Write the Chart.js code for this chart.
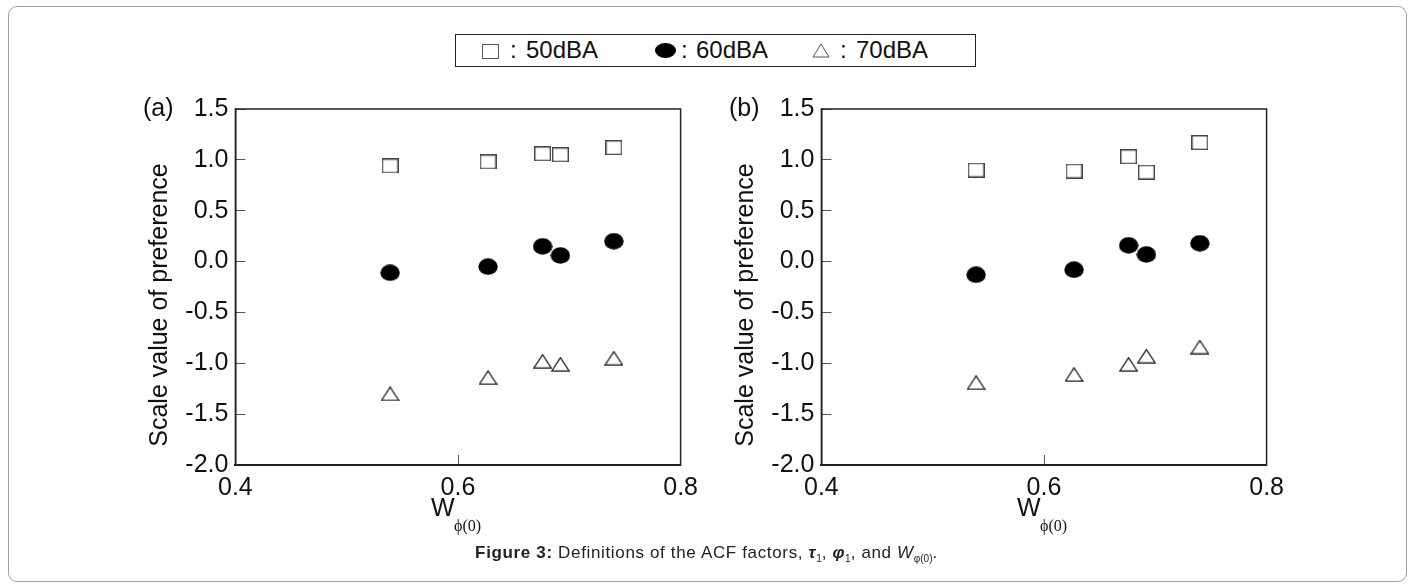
<!DOCTYPE html>
<html>
<head>
<meta charset="utf-8">
<script src="https://cdn.jsdelivr.net/npm/chart.js@4.4.0/dist/chart.umd.min.js"></script>
<style>
  body { margin: 0; background: #fff; width: 1413px; height: 584px; position: relative; overflow: hidden; font-family: "Liberation Sans", Arial, sans-serif; }
  #frame { position: absolute; left: 8px; top: 6px; width: 1399px; height: 576px; box-sizing: border-box; border: 1px solid #a0a0a0; border-radius: 9px; }
  .panel { position: absolute; top: 80px; width: 580px; height: 470px; }
  #legend { position: absolute; left: 455px; top: 34px; width: 521px; height: 33px; box-sizing: border-box; border: 1px solid #222; }
  #legend span { position: absolute; font-size: 24px; line-height: 24px; top: 3px; color: #111; }
  #legend .sym { position: absolute; }
  #caption { position: absolute; left: 0; width: 1413px; top: 543px; text-align: center; font-size: 17px; letter-spacing: 0.65px; color: #222; }
  #caption sub { font-size: 10px; letter-spacing: 0; }
</style>
</head>
<body>
<div id="frame"></div>

<div id="legend">
  <div class="sym" style="left:26px; top:9px; width:15px; height:13px; border:1px solid #555;"></div>
  <span style="left:54px;">:</span>
  <span style="left:70px;">50dBA</span>
  <div class="sym" style="left:199px; top:8px; width:21px; height:15px; border-radius:50%; background:#000;"></div>
  <span style="left:225px;">:</span>
  <span style="left:240px;">60dBA</span>
  <svg class="sym" style="left:356px; top:8px;" width="18" height="15"><polygon points="9,1 17,14 1,14" fill="none" stroke="#555" stroke-width="1"/></svg>
  <span style="left:384px;">:</span>
  <span style="left:400px;">70dBA</span>
</div>

<div class="panel" style="left:130px;"><canvas id="chartA" width="580" height="470"></canvas></div>
<div class="panel" style="left:716px;"><canvas id="chartB" width="580" height="470"></canvas></div>

<div id="caption"><b>Figure 3:</b> Definitions of the ACF factors, <i><b>τ</b></i><sub>1</sub>, <i><b>φ</b></i><sub>1</sub>, and <i>W</i><sub>φ(0)</sub>.</div>

<script>
// W_phi(0) values shared by both panels
var wValues = [0.539, 0.627, 0.676, 0.692, 0.740];

// panel (a)
var a50 = [0.94, 0.98, 1.06, 1.05, 1.12];
var a60 = [-0.11, -0.05, 0.15, 0.06, 0.20];
var a70 = [-1.30, -1.14, -0.98, -1.01, -0.95];

// panel (b)
var b50 = [0.90, 0.89, 1.03, 0.88, 1.17];
var b60 = [-0.13, -0.08, 0.16, 0.07, 0.18];
var b70 = [-1.19, -1.11, -1.01, -0.93, -0.84];

var yTicks = [1.5, 1.0, 0.5, 0.0, -0.5, -1.0, -1.5, -2.0];
var xTicks = [0.4, 0.6, 0.8];

var FONT = '"Liberation Sans", Arial, sans-serif';

// marker images (the figure's marks are a bit wider than tall)
function makeSquare() {
  var c = document.createElement("canvas");
  c.width = 17; c.height = 15;
  var ctx = c.getContext("2d");
  ctx.fillStyle = "#fff";
  ctx.fillRect(0, 0, 17, 15);
  ctx.strokeStyle = "#444";
  ctx.lineWidth = 1.4;
  ctx.strokeRect(0.7, 0.7, 15.6, 13.6);
  return c;
}

function makeDot() {
  var c = document.createElement("canvas");
  c.width = 20; c.height = 17;
  var ctx = c.getContext("2d");
  ctx.fillStyle = "#000";
  ctx.beginPath();
  ctx.ellipse(10, 8.5, 9.7, 8.2, 0, 0, Math.PI * 2);
  ctx.fill();
  return c;
}

function makeTriangle() {
  var c = document.createElement("canvas");
  c.width = 19; c.height = 15;
  var ctx = c.getContext("2d");
  ctx.strokeStyle = "#222";
  ctx.fillStyle = "#fff";
  ctx.lineWidth = 1.3;
  ctx.beginPath();
  ctx.moveTo(9.5, 0.8);
  ctx.lineTo(18.2, 14.2);
  ctx.lineTo(0.8, 14.2);
  ctx.closePath();
  ctx.fill();
  ctx.stroke();
  return c;
}

function toPoints(ys) {
  return ys.map(function (y, i) {
    return { x: wValues[i], y: y };
  });
}

// frame, panel letter and axis titles
var decorPlugin = {
  id: "decor",
  afterDraw: function (chart, args, opts) {
    var ctx = chart.ctx;
    var area = chart.chartArea;
    ctx.save();
    ctx.strokeStyle = "#222";
    ctx.lineWidth = 1.5;
    ctx.strokeRect(area.left, area.top, area.right - area.left, area.bottom - area.top);

    ctx.fillStyle = "#111";
    ctx.font = "25px " + FONT;
    ctx.textBaseline = "middle";
    ctx.textAlign = "left";
    ctx.fillText(opts.letter, 13, area.top);

    // y title
    ctx.save();
    ctx.translate(30, 225);
    ctx.rotate(-Math.PI / 2);
    ctx.textAlign = "center";
    ctx.fillText("Scale value of preference", 0, 0);
    ctx.restore();

    // x title W with subscript
    var cx = (area.left + area.right) / 2;
    ctx.textBaseline = "alphabetic";
    ctx.textAlign = "left";
    ctx.font = "25px " + FONT;
    ctx.fillText("W", cx - 27, 436);
    ctx.font = '16px "Liberation Serif", "Times New Roman", serif';
    ctx.fillText("\u03D5(0)", cx - 4, 451);
    ctx.restore();
  },
};

function buildChart(id, letter, s50, s60, s70) {
  var ctx = document.getElementById(id).getContext("2d");
  return new Chart(ctx, {
    type: "scatter",
    data: {
      datasets: [
        { label: "50dBA", data: toPoints(s50), pointStyle: makeSquare(), pointRadius: 8 },
        { label: "60dBA", data: toPoints(s60), pointStyle: makeDot(), pointRadius: 8 },
        { label: "70dBA", data: toPoints(s70), pointStyle: makeTriangle(), pointRadius: 8 },
      ],
    },
    options: {
      responsive: false,
      animation: false,
      devicePixelRatio: 1,
      layout: { padding: { left: 0, top: 29, right: 29.4, bottom: 15 } },
      plugins: {
        legend: { display: false },
        tooltip: { enabled: false },
        decor: { letter: letter },
      },
      scales: {
        x: {
          type: "linear",
          min: 0.4,
          max: 0.8,
          afterFit: function (scale) {
            scale.height = 70;
            scale.paddingLeft = 0;
            scale.paddingRight = 0;
          },
          afterBuildTicks: function (scale) {
            scale.ticks = xTicks.map(function (v) { return { value: v }; });
          },
          ticks: {
            color: "#111",
            font: { family: FONT, size: 25 },
            padding: 18,
            callback: function (v) { return v.toFixed(1); },
          },
          grid: { drawOnChartArea: false, tickLength: -10, color: "#555", lineWidth: 1 },
          border: { color: "#222", width: 2 },
        },
        y: {
          type: "linear",
          min: -2,
          max: 1.5,
          afterFit: function (scale) {
            scale.width = 105.4;
            scale.paddingTop = 0;
            scale.paddingBottom = 0;
          },
          afterBuildTicks: function (scale) {
            scale.ticks = yTicks.map(function (v) { return { value: v }; });
          },
          ticks: {
            color: "#111",
            font: { family: FONT, size: 25 },
            padding: 17,
            callback: function (v) { return v.toFixed(1); },
          },
          grid: { drawOnChartArea: false, tickLength: -10, color: "#555", lineWidth: 1 },
          border: { color: "#222", width: 1.5 },
        },
      },
    },
    plugins: [decorPlugin],
  });
}

buildChart("chartA", "(a)", a50, a60, a70);
buildChart("chartB", "(b)", b50, b60, b70);
</script>
</body>
</html>
